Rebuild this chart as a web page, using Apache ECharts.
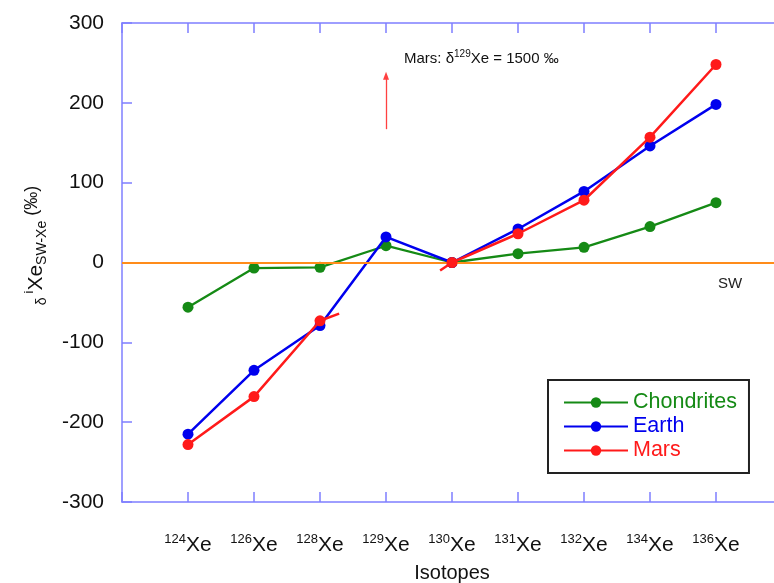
<!DOCTYPE html>
<html>
<head>
<meta charset="utf-8">
<script src="https://cdn.jsdelivr.net/npm/echarts@6/dist/echarts.min.js"></script>
<style>html,body{margin:0;padding:0;background:#fff}#c{width:774px;height:583px}</style>
</head>
<body>
<div id="c"></div>
<script>
// ---- data ----
var isotopes = ['124', '126', '128', '129', '130', '131', '132', '134', '136'];
var chondrites = [-56, -7, -6, 21, 0, 11, 19, 45, 75];
var earth = [-215, -135, -79, 32, 0, 42, 89, 146, 198];
var mars = [-228, -168, -73, null, 0, 36, 78, 157, 248];   // 129Xe off-scale (1500 ‰)
var marsStubA = [[3, -73], [3.29, -64]];
var marsStubB = [[4.82, -10], [5, 0]];
var marsArrow = [[4, 167], [4, 234]];
var yTicks = [-300, -200, -100, 0, 100, 200, 300];

function toXY(arr) { return arr.map(function (v, i) { return [i + 1, v]; }); }

var AX = '#7f7fff';
var GREEN = '#158a15', BLUE = '#0000ee', RED = '#ff1a1a', ORANGE = '#ff8c1a';
var FF = 'Liberation Sans, Arial, sans-serif';

var chart = echarts.init(document.getElementById('c'), null, {renderer: 'canvas'});
chart.setOption({
  animation: false,
  backgroundColor: '#fff',
  textStyle: {fontFamily: FF},
  grid: {left: 122, top: 23, right: -8, bottom: 81, containLabel: false, outerBoundsMode: 'none'},
  xAxis: [{
    type: 'value', min: 0, max: 10, interval: 1,
    axisLine: {onZero: false, lineStyle: {color: AX, width: 1.5}},
    axisTick: {inside: true, length: 10, lineStyle: {color: AX, width: 1.5}},
    splitLine: {show: false},
    axisLabel: {
      margin: 31, color: '#111', fontFamily: FF,
      formatter: function (v) {
        if (v < 1 || v > 9) return '';
        return '{s|' + isotopes[v - 1] + '}{x|Xe}';
      },
      rich: {
        s: {fontSize: 13, color: '#111', verticalAlign: 'top', lineHeight: 24, fontFamily: FF},
        x: {fontSize: 21, color: '#111', lineHeight: 24, fontFamily: FF}
      }
    },
    name: 'Isotopes', nameLocation: 'middle', nameGap: 61,
    nameTextStyle: {fontSize: 20, color: '#111', fontFamily: FF}
  }, {
    type: 'value', position: 'top', min: 0, max: 10, interval: 1,
    axisLine: {onZero: false, lineStyle: {color: AX, width: 1.5}},
    axisTick: {inside: true, length: 10, lineStyle: {color: AX, width: 1.5}},
    axisLabel: {show: false}, splitLine: {show: false}
  }],
  yAxis: {
    type: 'value', min: yTicks[0], max: yTicks[yTicks.length - 1], interval: 100,
    axisLine: {show: true, onZero: false, lineStyle: {color: AX, width: 1.5}},
    axisTick: {show: true, inside: true, length: 10, lineStyle: {color: AX, width: 1.5}},
    splitLine: {show: false},
    axisLabel: {fontSize: 21, color: '#111', margin: 18, fontFamily: FF},
    name: '{d|δ }{s|i}{x|Xe}{b|SW-Xe}{p| (‰)}',
    nameLocation: 'middle', nameRotate: 90, nameGap: 73,
    nameTextStyle: {
      color: '#111', fontFamily: FF, padding: [0, 0, 0, 34],
      rich: {
        d: {fontSize: 14, color: '#111', lineHeight: 26, verticalAlign: 'bottom', fontFamily: FF},
        s: {fontSize: 13, color: '#111', lineHeight: 26, verticalAlign: 'top', fontFamily: FF},
        x: {fontSize: 21, color: '#111', lineHeight: 26, fontFamily: FF},
        b: {fontSize: 14, color: '#111', lineHeight: 26, verticalAlign: 'bottom', fontFamily: FF},
        p: {fontSize: 18, color: '#111', lineHeight: 26, verticalAlign: 'top', fontFamily: FF}
      }
    }
  },
  legend: {
    orient: 'vertical', left: 548, top: 380,
    backgroundColor: '#fff', borderColor: '#222', borderWidth: 2,
    padding: [11, 12, 11, 15], itemWidth: 64, itemHeight: 13, itemGap: 1,
    textStyle: {fontSize: 21.5, fontFamily: FF, lineHeight: 23},
    data: [
      {name: 'Chondrites', textStyle: {color: GREEN}},
      {name: 'Earth', textStyle: {color: BLUE}},
      {name: 'Mars', textStyle: {color: RED}}
    ]
  },
  graphic: [
    {type: 'text', left: 404, top: 49, style: {
      text: '{a|Mars: δ}{s|129}{a|Xe = 1500 ‰}',
      rich: {
        a: {fontSize: 15, fill: '#111', lineHeight: 20, fontFamily: FF},
        s: {fontSize: 10, fill: '#111', lineHeight: 20, verticalAlign: 'top', fontFamily: FF}
      }
    }},
    {type: 'text', left: 718, top: 276, style: {text: 'SW', fontSize: 15, fill: '#222', fontFamily: FF}}
  ],
  series: [
    {
      name: 'zero', type: 'line', data: [], silent: true, z: 1,
      markLine: {
        silent: true, symbol: 'none', label: {show: false},
        lineStyle: {color: ORANGE, width: 2, type: 'solid'},
        data: [{yAxis: 0}]
      }
    },
    {
      name: 'Chondrites', type: 'line', data: toXY(chondrites),
      symbol: 'circle', symbolSize: 11, z: 3,
      lineStyle: {color: GREEN, width: 2.3}, itemStyle: {color: GREEN}
    },
    {
      name: 'Earth', type: 'line', data: toXY(earth),
      symbol: 'circle', symbolSize: 11, z: 4,
      lineStyle: {color: BLUE, width: 2.5}, itemStyle: {color: BLUE}
    },
    {
      name: 'Mars', type: 'line', data: toXY(mars), connectNulls: false,
      symbol: 'circle', symbolSize: 11, z: 5,
      lineStyle: {color: RED, width: 2.5}, itemStyle: {color: RED}
    },
    {
      name: 'marsStubA', type: 'line', data: marsStubA, symbol: 'none', z: 5,
      lineStyle: {color: RED, width: 2.5}, itemStyle: {color: RED}
    },
    {
      name: 'marsStubB', type: 'line', data: marsStubB, symbol: 'none', z: 5,
      lineStyle: {color: RED, width: 2.5}, itemStyle: {color: RED},
      markLine: {
        silent: true, symbol: ['none', 'triangle'], symbolSize: [6, 8],
        label: {show: false},
        lineStyle: {color: '#ff4040', width: 1.3, type: 'solid', opacity: 1},
        itemStyle: {color: '#ff4040'},
        data: [[{coord: marsArrow[0], lineStyle: {color: '#ff4040'}}, {coord: marsArrow[1]}]]
      }
    }
  ]
});
</script>
</body>
</html>
